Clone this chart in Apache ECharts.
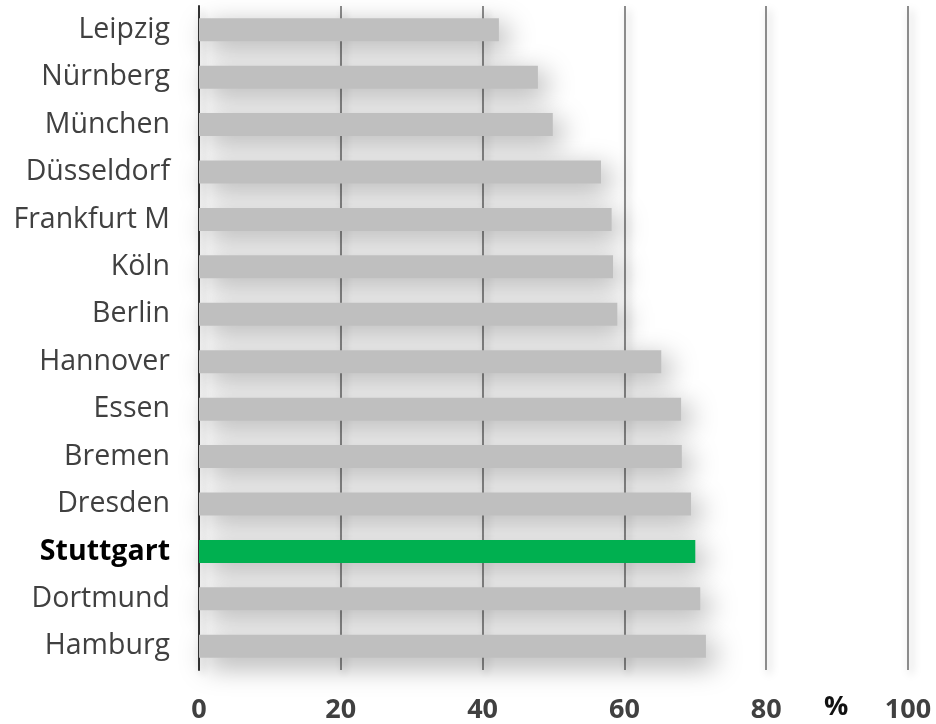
<!DOCTYPE html>
<html>
<head>
<meta charset="utf-8">
<script src="https://cdn.jsdelivr.net/npm/echarts@6/dist/echarts.min.js"></script>
<style>
  html, body { margin: 0; padding: 0; background: #fff; }
  #chart { width: 936px; height: 724px; }
</style>
</head>
<body>
<div id="chart"></div>
<script>
// cities, top to bottom
const cities = ['Leipzig', 'Nürnberg', 'München', 'Düsseldorf', 'Frankfurt M', 'Köln', 'Berlin',
  'Hannover', 'Essen', 'Bremen', 'Dresden', 'Stuttgart', 'Dortmund', 'Hamburg'];
const shares = [42.3, 47.8, 49.9, 56.7, 58.2, 58.4, 59.0, 65.2, 68.0, 68.1, 69.4, 70.0, 70.7, 71.5];
const highlight = 'Stuttgart';
const xTicks = [0, 20, 40, 60, 80, 100];

const chart = echarts.init(document.getElementById('chart'));

const option = {
  animation: false,
  grid: { left: 199, right: 28, top: 6, bottom: 53 },
  xAxis: {
    type: 'value',
    min: xTicks[0],
    max: xTicks[xTicks.length - 1],
    interval: 20,
    axisLine: { show: false },
    axisTick: { show: false },
    axisLabel: {
      margin: 27,
      fontFamily: 'Open Sans',
      fontWeight: 'bold',
      fontSize: 27,
      color: '#404040'
    },
    splitLine: {
      lineStyle: {
        color: '#8c8c8c',
        width: 2,
        shadowColor: 'rgba(0,0,0,0.25)',
        shadowBlur: 8,
        shadowOffsetX: 3,
        shadowOffsetY: 4
      }
    }
  },
  yAxis: {
    type: 'category',
    inverse: true,
    data: cities.map(c => c === highlight
      ? { value: c, textStyle: { fontWeight: 'bold', color: '#000' } }
      : c),
    axisLine: { lineStyle: { color: '#333', width: 2 } },
    axisTick: { show: false },
    axisLabel: {
      margin: 29,
      fontFamily: 'Open Sans',
      fontSize: 28.5,
      color: '#404040'
    }
  },
  series: [{
    type: 'bar',
    barWidth: 23,
    data: shares.map((v, i) => ({
      value: v,
      itemStyle: {
        color: cities[i] === highlight ? '#00b050' : '#bfbfbf',
        shadowColor: 'rgba(0,0,0,0.35)',
        shadowBlur: 28,
        shadowOffsetX: 8,
        shadowOffsetY: 8
      }
    }))
  }],
  graphic: [{
    type: 'text',
    left: 824,
    top: 694,
    style: {
      text: '%',
      font: 'bold 27px "Open Sans"',
      fill: '#111'
    }
  }]
};

chart.setOption(option);
</script>
</body>
</html>
